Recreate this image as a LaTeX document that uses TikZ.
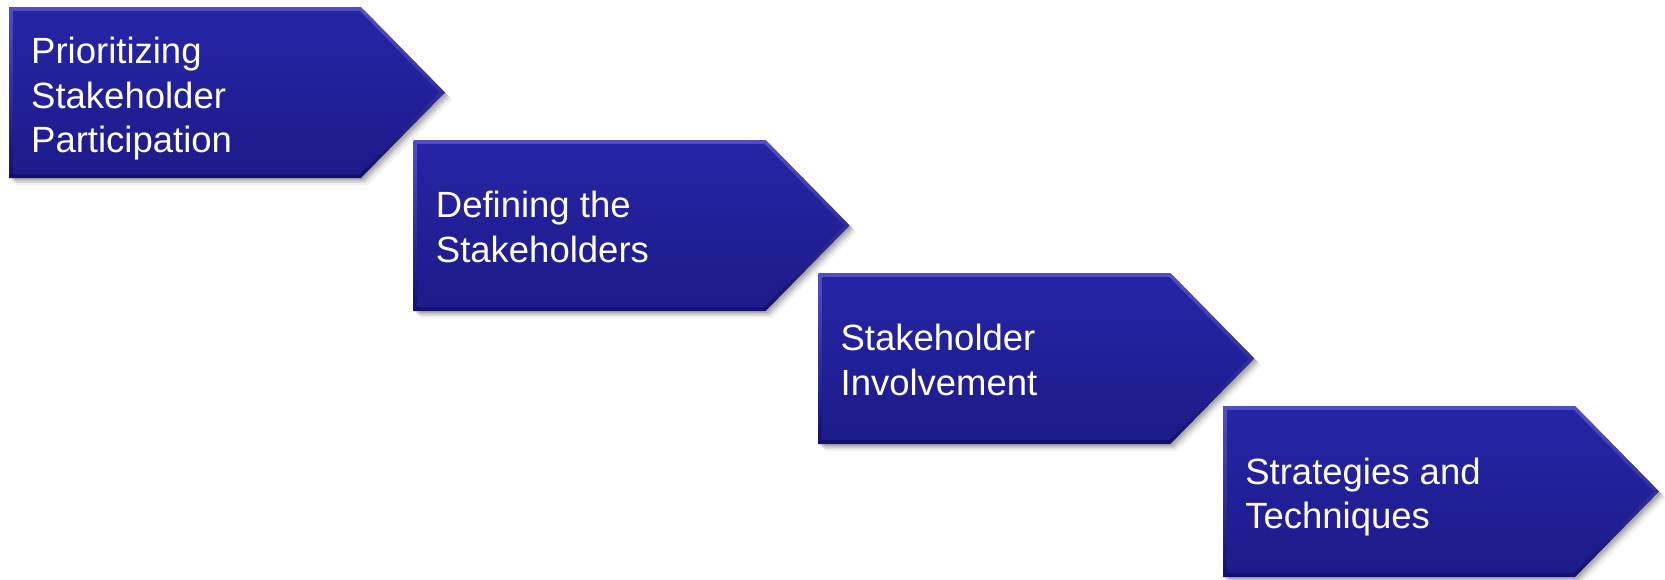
\documentclass[tikz,border=0pt]{standalone}
\usepackage{fontspec}
\setmainfont{Liberation Sans}
\definecolor{bevtop}{RGB}{80,80,196}
\definecolor{bevbot}{RGB}{18,16,110}
\definecolor{maintop}{RGB}{38,36,165}
\definecolor{mainbot}{RGB}{30,27,138}
\tikzset{
  steplabel/.style={anchor=west, text=white, align=left,
    font=\fontsize{36.5pt}{44.5pt}\selectfont, inner sep=0pt},
}
\newcommand{\chevpath}[3]{% x0, y0, inset
  (#1+#3,#2+#3) -- (#1+352-#3*0.3,#2+#3) -- (#1+436-#3*1.4,#2+85.5) -- (#1+352-#3*0.3,#2+171-#3) -- (#1+#3,#2+171-#3) -- cycle}
\begin{document}
\begin{tikzpicture}[x=1pt,y=-1pt]
\useasboundingbox[fill=white] (0,0) rectangle (1665,579);
\foreach \i/\dy/\t in {0/92/{Prioritizing\\Stakeholder\\Participation},1/87/{Defining the\\Stakeholders},2/87/{Stakeholder\\Involvement},3/91/{Strategies and\\Techniques}}{
  \pgfmathsetmacro{\xa}{9+404.7*\i}
  \pgfmathsetmacro{\ya}{7+133*\i}
  \foreach \d/\o in {7/0.05,5/0.08,3.5/0.1,2/0.12}{
    \fill[black, opacity=\o, shift={(\d,\d)}] \chevpath{\xa}{\ya}{0};
  }
  \shade[top color=bevtop, bottom color=bevbot] \chevpath{\xa}{\ya}{0};
  \shade[top color=maintop, bottom color=mainbot] \chevpath{\xa}{\ya}{4};
  \node[steplabel] (t\i) at (\xa+22,\ya+\dy) {\t};
}
\end{tikzpicture}
\end{document}
